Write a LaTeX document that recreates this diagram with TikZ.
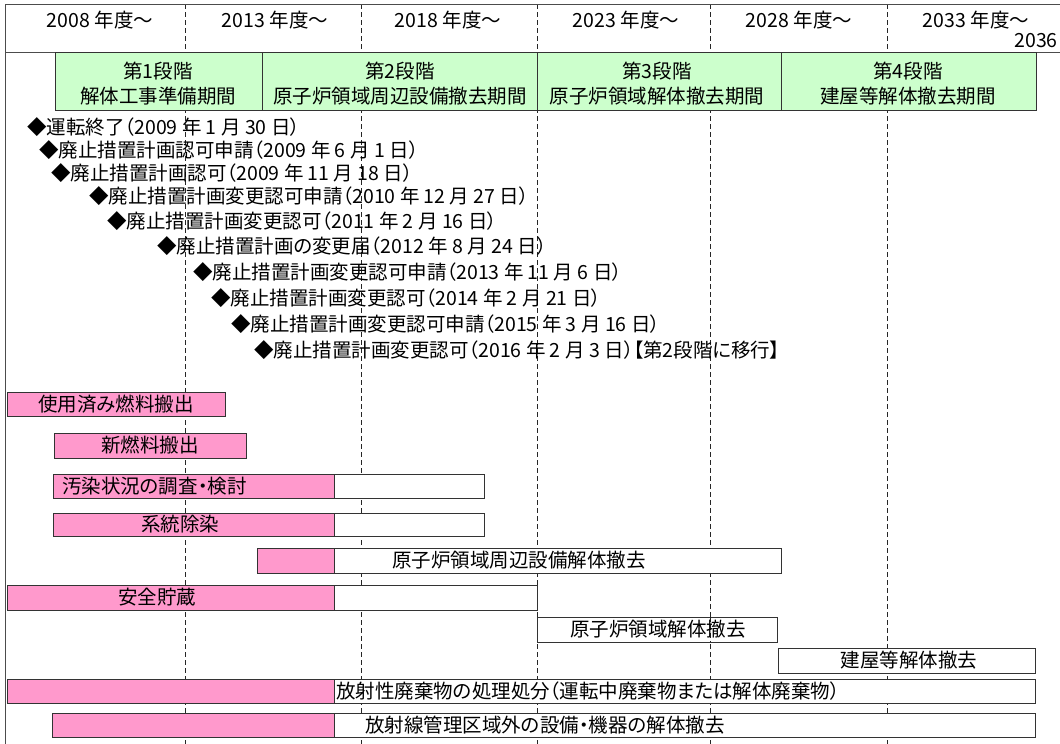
\documentclass[tikz,border=0pt]{standalone}
\usepackage{fontspec}
\setmainfont[RawFeature=+palt]{Noto Sans CJK JP}
\definecolor{barpink}{HTML}{FF99CC}
\definecolor{phasegreen}{HTML}{CCFFCC}
\definecolor{edge}{HTML}{333333}
\begin{document}
\begin{tikzpicture}[x=1pt,y=-1pt,
  txt/.style={inner sep=0pt,text height=17.2pt,text depth=2.3pt,font=\fontsize{19.5}{25}\selectfont},
  lbl/.style={txt,anchor=center},
  msl/.style={txt,anchor=west},
  phase/.style={draw=edge,line width=0.9pt,fill=phasegreen},
  pinkbar/.style={draw=edge,line width=0.9pt,fill=barpink},
  whitebar/.style={draw=edge,line width=0.9pt,fill=white},
  grid/.style={draw=black!85,line width=0.8pt,dash pattern=on 5pt off 3pt},
  frame/.style={draw=black!70,line width=0.9pt}]
\useasboundingbox (0,0) rectangle (1060,744);
% year grid
\foreach \gx in {185,361,537,710,887} \draw[grid] (\gx,4) -- (\gx,744);
% frame
\draw[frame] (5,744) -- (5,4) -- (1060,4);
\draw[frame] (5,52) -- (1060,52);
% header labels
\node[lbl] (y2008) at (100,20) {2008 年度～};
\node[lbl] (y2013) at (275,20) {2013 年度～};
\node[lbl] (y2018) at (448,20) {2018 年度～};
\node[lbl] (y2023) at (626,20) {2023 年度～};
\node[lbl] (y2028) at (799,20) {2028 年度～};
\node[lbl] (y2033) at (976,20) {2033 年度～};
\node[txt,anchor=east] (y2036) at (1058,40) {2036};
% phases
\draw[phase] (55,52) rectangle (262,110);
\draw[phase] (262,52) rectangle (537,110);
\draw[phase] (537,52) rectangle (781,110);
\draw[phase] (781,52) rectangle (1036,110);
\node[lbl] (p1a) at (158,71) {第1段階};
\node[lbl] (p1b) at (158,96) {解体工事準備期間};
\node[lbl] (p2a) at (400,71) {第2段階};
\node[lbl] (p2b) at (400,96) {原子炉領域周辺設備撤去期間};
\node[lbl] (p3a) at (657,71) {第3段階};
\node[lbl] (p3b) at (657,96) {原子炉領域解体撤去期間};
\node[lbl] (p4a) at (908,71) {第4段階};
\node[lbl] (p4b) at (908,96) {建屋等解体撤去期間};
% milestones
\node[msl] (m1) at (27,127) {◆運転終了（2009 年 1 月 30 日）};
\node[msl] (m2) at (39,150) {◆廃止措置計画認可申請（2009 年 6 月 1 日）};
\node[msl] (m3) at (51,173) {◆廃止措置計画認可（2009 年 11 月 18 日）};
\node[msl] (m4) at (89,196) {◆廃止措置計画変更認可申請（2010 年 12 月 27 日）};
\node[msl] (m5) at (107,221) {◆廃止措置計画変更認可（2011 年 2 月 16 日）};
\node[msl] (m6) at (157,246) {◆廃止措置計画の変更届（2012 年 8 月 24 日）};
\node[msl] (m7) at (193,272) {◆廃止措置計画変更認可申請（2013 年 11 月 6 日）};
\node[msl] (m8) at (211,298) {◆廃止措置計画変更認可（2014 年 2 月 21 日）};
\node[msl] (m9) at (231,324) {◆廃止措置計画変更認可申請（2015 年 3 月 16 日）};
\node[msl] (m10) at (254,350) {◆廃止措置計画変更認可（2016 年 2 月 3 日）【第2段階に移行】};
% bars
\draw[pinkbar] (7,392) rectangle (225,416);
\draw[pinkbar] (54,433) rectangle (246,458);
\draw[pinkbar] (53,474) rectangle (334,498);
\draw[whitebar] (334,474) rectangle (484,498);
\draw[pinkbar] (53,513) rectangle (334,536);
\draw[whitebar] (334,513) rectangle (484,536);
\draw[pinkbar] (257,548) rectangle (334,573);
\draw[whitebar] (334,548) rectangle (781,573);
\draw[pinkbar] (7,585) rectangle (334,610);
\draw[whitebar] (334,585) rectangle (537,610);
\draw[whitebar] (537,617) rectangle (777,642);
\draw[grid] (710,617) -- (710,642);
\draw[whitebar] (778,648) rectangle (1035,673);
\draw[pinkbar] (7,679) rectangle (334,703);
\draw[whitebar] (334,679) rectangle (1035,703);
\draw[pinkbar] (52,713) rectangle (334,737);
\draw[whitebar] (334,713) rectangle (1035,737);
% bar labels
\node[lbl] (b1) at (116,404) {使用済み燃料搬出};
\node[lbl] (b2) at (150,445.5) {新燃料搬出};
\node[msl] (b3) at (62,486) {汚染状況の調査・検討};
\node[lbl] (b4) at (180,524.5) {系統除染};
\node[msl] (b5) at (392,560.5) {原子炉領域周辺設備解体撤去};
\node[lbl] (b6) at (157,597.5) {安全貯蔵};
\node[lbl] (b7) at (658,629.5) {原子炉領域解体撤去};
\node[lbl] (b8) at (909,660.5) {建屋等解体撤去};
\node[msl] (b9) at (336,691) {放射性廃棄物の処理処分（運転中廃棄物または解体廃棄物）};
\node[msl] (b10) at (365,725) {放射線管理区域外の設備・機器の解体撤去};
\end{tikzpicture}
\end{document}
